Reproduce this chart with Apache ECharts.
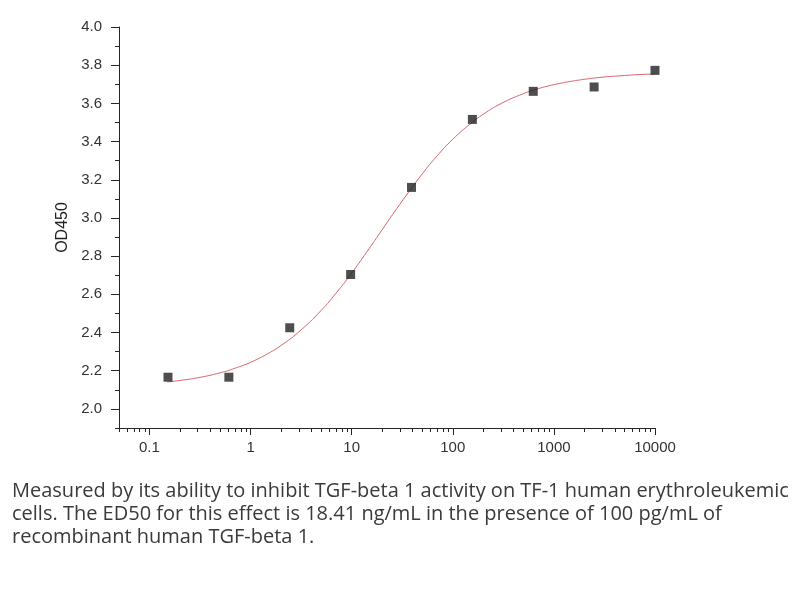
<!DOCTYPE html>
<html>
<head>
<meta charset="utf-8">
<script src="https://cdn.jsdelivr.net/npm/echarts@6/dist/echarts.min.js"></script>
<style>html,body{margin:0;padding:0;background:#fff;}#c{width:804px;height:600px;}</style>
</head>
<body>
<div id="c"></div>
<script>
// Measured points (concentration, OD450)
var concentrations = [0.1526, 0.6104, 2.441, 9.766, 39.06, 156.25, 625, 2500, 10000];
var odValues = [2.166, 2.166, 2.425, 2.704, 3.160, 3.516, 3.663, 3.686, 3.773];
// Fitted curve
var curveX = [0.15, 0.2, 0.3, 0.5, 0.7, 1, 1.5, 2, 3, 5, 7, 10, 15, 20, 30, 50, 70, 100, 150, 200, 300, 500, 700, 1000, 1500, 2000, 3000, 5000, 7000, 10000];
var curveY = [2.141, 2.149, 2.163, 2.189, 2.213, 2.244, 2.291, 2.332, 2.403, 2.516, 2.606, 2.711, 2.842, 2.938, 3.072, 3.231, 3.325, 3.412, 3.494, 3.543, 3.599, 3.651, 3.677, 3.698, 3.716, 3.726, 3.737, 3.746, 3.751, 3.754];
// Tick labels
var xTickValues = [0.1, 1, 10, 100, 1000, 10000];
var xTickLabels = ['0.1', '1', '10', '100', '1000', '10000'];
var yTickValues = [2.0, 2.2, 2.4, 2.6, 2.8, 3.0, 3.2, 3.4, 3.6, 3.8, 4.0];
var yMinorValues = [1.9, 2.1, 2.3, 2.5, 2.7, 2.9, 3.1, 3.3, 3.5, 3.7, 3.9];
var caption = [
  'Measured by its ability to inhibit TGF-beta 1 activity on TF-1 human erythroleukemic',
  'cells. The ED50 for this effect is 18.41 ng/mL in the presence of 100 pg/mL of',
  'recombinant human TGF-beta 1.'
];

var xMinor = [];
[0.01, 0.1, 1, 10, 100, 1000].forEach(function (d) {
  for (var k = 2; k <= 9; k++) {
    var v = +(d * k).toPrecision(3);
    if (v >= 0.05 && v <= 10000) xMinor.push(v);
  }
});

var axisColor = '#262626';
var labelFont = '"Liberation Sans", Arial, sans-serif';

var chart = echarts.init(document.getElementById('c'), null, {renderer: 'canvas'});
chart.setOption({
  backgroundColor: '#fff',
  animation: false,
  grid: {left: 119, top: 27, width: 536, height: 401, containLabel: false, outerBoundsMode: 'none'},
  xAxis: [{
    type: 'log', logBase: 10, min: 0.05, max: 10000, position: 'bottom',
    axisLine: {show: true, onZero: false, lineStyle: {color: axisColor, width: 1}},
    axisTick: {show: true, inside: false, length: 7, customValues: xTickValues, lineStyle: {color: axisColor}},
    axisLabel: {show: true, customValues: xTickValues, margin: 12, color: '#333', fontSize: 15, fontFamily: labelFont,
      formatter: function (v) { var i = xTickValues.indexOf(+v); return i >= 0 ? xTickLabels[i] : ''; }},
    splitLine: {show: false}, minorTick: {show: false}
  }, {
    type: 'log', logBase: 10, min: 0.05, max: 10000, position: 'bottom', gridIndex: 0,
    axisLine: {show: false, onZero: false},
    axisTick: {show: true, inside: false, length: 4, customValues: xMinor, lineStyle: {color: axisColor}},
    axisLabel: {show: false}, splitLine: {show: false}
  }],
  yAxis: [{
    type: 'value', min: 1.9, max: 4.0, position: 'left',
    name: 'OD450', nameLocation: 'middle', nameGap: 44, nameRotate: 90,
    nameTextStyle: {color: '#222', fontSize: 16, fontFamily: labelFont},
    axisLine: {show: true, onZero: false, lineStyle: {color: axisColor, width: 1}},
    axisTick: {show: true, inside: false, length: 8, customValues: yTickValues, lineStyle: {color: axisColor}},
    axisLabel: {show: true, customValues: yTickValues, margin: 17, color: '#333', fontSize: 15, fontFamily: labelFont,
      formatter: function (v) { return (+v).toFixed(1); }},
    splitLine: {show: false}
  }, {
    type: 'value', min: 1.9, max: 4.0, position: 'left', gridIndex: 0,
    axisLine: {show: false, onZero: false},
    axisTick: {show: true, inside: false, length: 4, customValues: yMinorValues, lineStyle: {color: axisColor}},
    axisLabel: {show: false}, splitLine: {show: false}
  }],
  series: [{
    type: 'line', xAxisIndex: 0, yAxisIndex: 0, smooth: true, showSymbol: false, symbol: 'none',
    lineStyle: {color: '#d8666c', width: 1},
    data: curveX.map(function (x, i) { return [x, curveY[i]]; }),
    z: 2
  }, {
    type: 'scatter', xAxisIndex: 0, yAxisIndex: 0, symbol: 'rect', symbolSize: 9,
    itemStyle: {color: '#222'},
    data: concentrations.map(function (x, i) { return [x, odValues[i]]; }),
    z: 3
  }],
  graphic: caption.map(function (t, i) {
    return {type: 'text', left: 12, top: 481 + i * 23, style: {text: t, fill: '#3a3a3a', font: '20px "Open Sans", sans-serif'}};
  })
});
</script>
</body>
</html>
